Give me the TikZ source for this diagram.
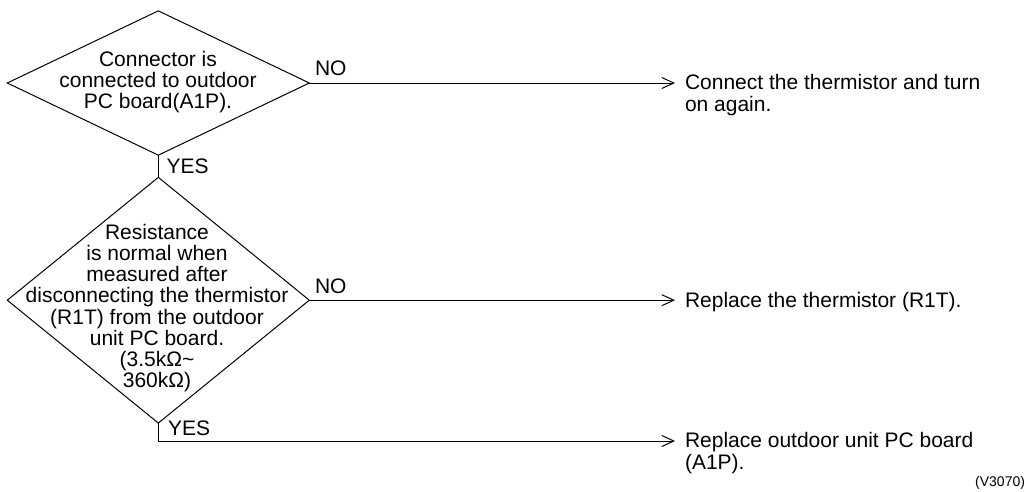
\documentclass[tikz,border=0pt]{standalone}
\usepackage{fontspec}
\setmainfont{Liberation Sans}
\usetikzlibrary{shapes.geometric,arrows.meta}
\begin{document}
\begin{tikzpicture}[x=1pt,y=-1pt,line width=1pt,
  every node/.style={font=\fontsize{21}{21.2}\selectfont,inner sep=0pt,outer sep=0pt},
  decision/.style={draw,shape=diamond,minimum width=302pt,minimum height=#1},
  dtext/.style={align=center},
  result/.style={align=left,inner xsep=10pt,anchor=base west},
  lbl/.style={anchor=base west},
  arr/.style={-{Straight Barb[length=12pt,width=11pt,line width=1pt]}}]
\useasboundingbox (0,0) rectangle (1027,491);
% decisions
\node[decision=144.3pt] (d1) at (158.3,83) {};
\node[dtext] (t1) at (158,82) {Connector is\\connected to outdoor\\PC board(A1P).};
\node[decision=245.7pt] (d2) at (158.3,300.2) {};
\node[dtext] (t2) at (157,308) {Resistance\\is normal when\\measured after\\disconnecting the thermistor\\(R1T) from the outdoor\\unit PC board.\\(3.5kΩ\textasciitilde\\360kΩ)};
% results (base = baseline of the last line)
\node[result] (r1) at (675,111) {Connect the thermistor and turn\\on again.};
\node[result] (r2) at (675,307.5) {Replace the thermistor (R1T).};
\node[result] (r3) at (675,469) {Replace outdoor unit PC board\\(A1P).};
% connectors
\draw[arr] (d1.east) -- (d1.east -| r1.west);
\draw (d1.south) -- (d2.north);
\draw[arr] (d2.east) -- (d2.east -| r2.west);
\coordinate (c3) at (158.3,441);
\draw[arr] (d2.south) -- (c3) -- (c3 -| r3.west);
% labels
\node[lbl] (no1) at (315,75) {NO};
\node[lbl] (yes1) at (166.7,173) {YES};
\node[lbl] (no2) at (315,293) {NO};
\node[lbl] (yes2) at (168,435) {YES};
\node[font=\fontsize{14}{14}\selectfont,anchor=base east] (code) at (1025,486) {(V3070)};
\end{tikzpicture}
\end{document}
